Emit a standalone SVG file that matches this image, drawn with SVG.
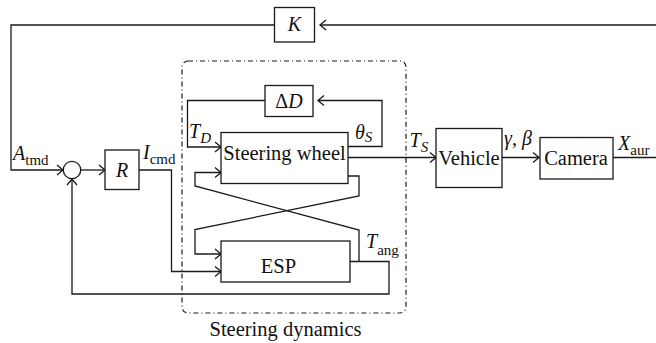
<svg xmlns="http://www.w3.org/2000/svg" width="656" height="343" viewBox="0 0 656 343" font-family="'Liberation Serif', 'DejaVu Serif', serif">
  <style>
    .ln { fill: none; stroke: #1a1a1a; stroke-width: 1.3; }
    .box { fill: #ffffff; stroke: #1a1a1a; stroke-width: 1.3; }
    .frame { fill: none; stroke: #1a1a1a; stroke-width: 1.2; stroke-dasharray: 5 3 1 3; }
    text { font-family: 'Liberation Serif', 'DejaVu Serif', serif; fill: #111; }
    .lbl { font-size: 20.5px; text-anchor: middle; }
    .m { font-style: italic; font-size: 20px; }
    .sub { font-size: 15px; }
    .subi { font-size: 15px; font-style: italic; }
  </style>
  <defs>
    <marker id="arr" markerUnits="userSpaceOnUse" markerWidth="14" markerHeight="14" viewBox="-8 -7 10 14" refX="0" refY="0" orient="auto">
      <path d="M-6,-5 L0,0 L-6,5" fill="none" stroke="#1a1a1a" stroke-width="1.3"/>
    </marker>
  </defs>

  <!-- steering dynamics frame -->
  <g id="steering-dynamics">
    <rect class="frame" x="182" y="61" width="224" height="252" rx="6"/>
    <text class="lbl" x="285.5" y="336">Steering dynamics</text>
  </g>

  <!-- connectors -->
  <g id="connectors">
    <path class="ln" d="M656,25 H320" marker-end="url(#arr)"/>
    <path class="ln" d="M274,25 H11 V170 H63" marker-end="url(#arr)"/>
    <path class="ln" d="M81,170 H105" marker-end="url(#arr)"/>
    <path class="ln" d="M139,170 H171.5 V271.5 H221" marker-end="url(#arr)"/>
    <path class="ln" d="M350,261.5 H389 V294 H72 V179" marker-end="url(#arr)"/>
    <path class="ln" d="M359,261.5 V230 L195,186 V172.5 H221" marker-end="url(#arr)"/>
    <path class="ln" d="M348,176 H359 V196 L195,229.5 V254 H221" marker-end="url(#arr)"/>
    <path class="ln" d="M348,146.5 H382 V100.5 H318" marker-end="url(#arr)"/>
    <path class="ln" d="M265,100.5 H187.5 V147 H221" marker-end="url(#arr)"/>
    <path class="ln" d="M348,157.5 H436" marker-end="url(#arr)"/>
    <path class="ln" d="M502,157.5 H539" marker-end="url(#arr)"/>
    <path class="ln" d="M613,157.5 H656"/>
  </g>

  <!-- gain K -->
  <g id="K">
    <rect class="box" x="274.5" y="7.5" width="40" height="34.5"/>
    <text class="m" x="294.5" y="31" text-anchor="middle">K</text>
  </g>

  <!-- summing junction -->
  <g id="sum">
    <circle class="box" cx="72" cy="170" r="8.7"/>
  </g>

  <!-- controller R -->
  <g id="R">
    <rect class="box" x="105" y="150" width="34" height="39.5"/>
    <text class="m" x="122" y="177" text-anchor="middle">R</text>
  </g>

  <!-- delta D -->
  <g id="deltaD">
    <rect class="box" x="265" y="85.5" width="48" height="31"/>
    <text x="289" y="108" font-size="20" text-anchor="middle">Δ<tspan font-style="italic">D</tspan></text>
  </g>

  <!-- steering wheel -->
  <g id="steering-wheel">
    <rect class="box" x="221" y="132.5" width="127" height="51"/>
    <text class="lbl" x="284.5" y="159.5">Steering wheel</text>
  </g>

  <!-- ESP -->
  <g id="ESP">
    <rect class="box" x="221" y="241" width="129" height="41"/>
    <text class="lbl" x="278.5" y="273" font-size="18.5">ESP</text>
  </g>

  <!-- vehicle -->
  <g id="vehicle">
    <rect class="box" x="436" y="128.5" width="66" height="59"/>
    <text class="lbl" x="469" y="164.5" font-size="20">Vehicle</text>
  </g>

  <!-- camera -->
  <g id="camera">
    <rect class="box" x="540" y="137.5" width="73" height="41.5"/>
    <text class="lbl" x="576" y="165" font-size="21">Camera</text>
  </g>

  <!-- signal labels -->
  <g id="labels">
    <text x="13" y="160"><tspan class="m" font-size="19">A</tspan><tspan class="sub" dy="5" font-size="16">tmd</tspan></text>
    <text x="143" y="159"><tspan class="m" font-size="19">I</tspan><tspan class="sub" dy="5" font-size="16">cmd</tspan></text>
    <text x="189" y="137.5"><tspan class="m">T</tspan><tspan class="subi" dy="5">D</tspan></text>
    <text x="355" y="138.5"><tspan class="m">θ</tspan><tspan class="subi" dy="3.5">S</tspan></text>
    <text x="409.5" y="147"><tspan class="m">T</tspan><tspan class="subi" dy="5">S</tspan></text>
    <text class="m" x="504" y="145">γ, β</text>
    <text x="618" y="149.5"><tspan class="m" font-size="19">X</tspan><tspan class="sub" dy="5">aur</tspan></text>
    <text x="366" y="248"><tspan class="m">T</tspan><tspan class="sub" dy="7">ang</tspan></text>
  </g>
</svg>
